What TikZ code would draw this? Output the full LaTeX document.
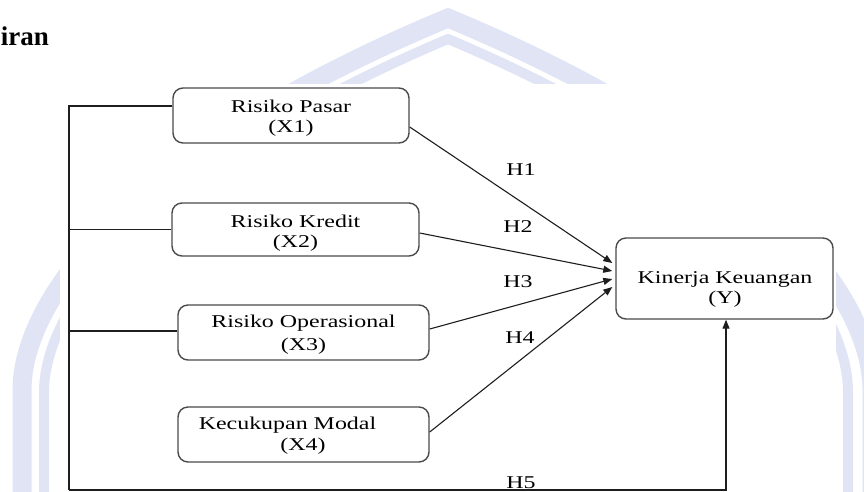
\documentclass[tikz,border=0pt]{standalone}
\usepackage{fontspec}
\setmainfont{Liberation Serif}
\newfontfamily\diagfont[FakeStretch=1.33]{Liberation Serif}
\usetikzlibrary{arrows.meta}
\definecolor{wm}{RGB}{224,228,245}
\definecolor{boxline}{RGB}{75,75,75}
\definecolor{conline}{RGB}{30,30,30}
\begin{document}
\begin{tikzpicture}[x=1pt,y=-1pt,
  box/.style={draw=boxline, line width=1.4pt, rounded corners=10pt, inner sep=0pt},
  lbl/.style={anchor=base, inner sep=0pt, font=\diagfont\fontsize{18pt}{21pt}\selectfont},
  conn/.style={draw=conline, line width=1.1pt},
  arr/.style={conn, -{Triangle[length=9pt,width=7pt]}},
  wmband/.style={draw=wm, line join=miter}]
\useasboundingbox (0,0) rectangle (864,491);
% watermark
\draw[wmband, line width=19pt] (22,510) -- (22,390) .. controls (22,300) and (130,150) .. (448,18) .. controls (766,150) and (872,300) .. (872,390) -- (872,510);
\draw[wmband, line width=10pt] (44,510) -- (44,392) .. controls (44,305) and (150,165) .. (448,39) .. controls (746,165) and (848,305) .. (848,392) -- (848,510);
\fill[white] (60,84) rectangle (836,491);
% title
\node[anchor=base east, inner sep=0pt, font=\bfseries\fontsize{27pt}{31pt}\selectfont] (title) at (49,45) {iran};
% boxes
\node[box, minimum width=236pt, minimum height=55pt] (X1) at (291,115.5) {};
\node[box, minimum width=247pt, minimum height=53pt] (X2) at (295.5,229.5) {};
\node[box, minimum width=251pt, minimum height=55pt] (X3) at (303.5,332.5) {};
\node[box, minimum width=251pt, minimum height=55pt] (X4) at (303.5,434.5) {};
\node[box, minimum width=217pt, minimum height=81pt] (Y) at (724.5,278.5) {};
% box texts
\node[lbl] (x1a) at (291,112) {Risiko Pasar};
\node[lbl] (x1b) at (291,132) {(X1)};
\node[lbl] (x2a) at (295.5,227) {Risiko Kredit};
\node[lbl] (x2b) at (295.5,247) {(X2)};
\node[lbl] (x3a) at (303.5,327) {Risiko Operasional};
\node[lbl] (x3b) at (303.5,350) {(X3)};
\node[lbl] (x4a) at (287.5,429) {Kecukupan Modal};
\node[lbl] (x4b) at (303,450) {(X4)};
\node[lbl] (ya) at (725,283) {Kinerja Keuangan};
\node[lbl] (yb) at (725,303) {(Y)};
% hypothesis labels
\node[lbl] (h1) at (521,175) {H1};
\node[lbl] (h2) at (518,232) {H2};
\node[lbl] (h3) at (518,287) {H3};
\node[lbl] (h4) at (520,343) {H4};
\node[lbl] (h5) at (521,488) {H5};
% connectors
\draw[arr] ([yshift=-11.5pt]X1.east) -- ([xshift=-3pt,yshift=15.5pt]Y.west);
\draw[arr] ([yshift=-3.5pt]X2.east) -- ([xshift=-3pt,yshift=7.5pt]Y.west);
\draw[arr] ([yshift=3.5pt]X3.east) -- ([xshift=-3pt,yshift=-0.5pt]Y.west);
\draw[arr] ([yshift=2.5pt]X4.east) -- ([xshift=-3pt,yshift=-8.5pt]Y.west);
\coordinate (bl) at (69,490);
\draw[conn] ([yshift=9.5pt]X1.west) -| (bl);
\draw[conn] (X2.west) -- (X2.west -| bl);
\draw[conn] ([yshift=1.5pt]X3.west) -- ([yshift=1.5pt]X3.west -| bl);
\draw[arr] (bl) -| ([xshift=1.5pt]Y.south);
\end{tikzpicture}
\end{document}
